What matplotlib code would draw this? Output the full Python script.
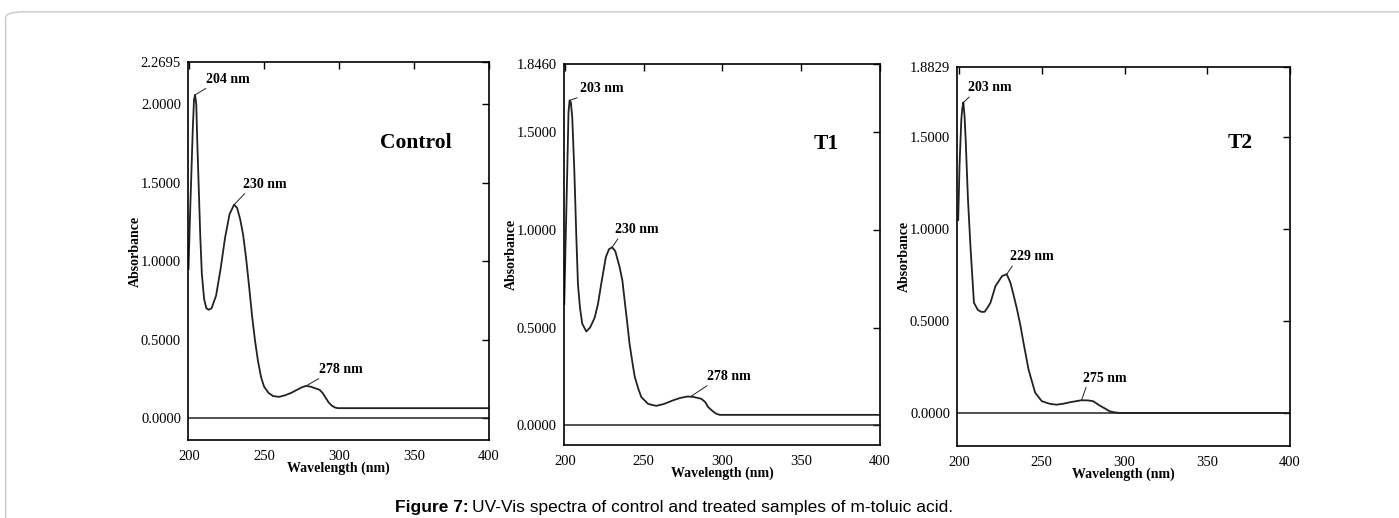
import matplotlib.pyplot as plt
from matplotlib.patches import FancyBboxPatch

# Control spectrum
control_nm = [199.6, 200.5, 201.5, 202.5, 203.3, 204, 204.8, 205.5, 206.5, 207.5, 208.5, 210,
              211.5, 213, 215, 218, 221, 224, 227, 230, 232, 234, 236, 238, 240, 242, 244, 246,
              248, 250, 253, 256, 260, 264, 268, 272, 275, 278, 281, 284, 287, 289, 291, 293,
              295, 297, 299, 400]
control_abs = [0.95, 1.25, 1.55, 1.85, 2.03, 2.06, 2.0, 1.75, 1.45, 1.15, 0.92, 0.76,
               0.7, 0.69, 0.7, 0.78, 0.95, 1.15, 1.3, 1.36, 1.34, 1.27, 1.17, 1.02, 0.84, 0.65,
               0.49, 0.36, 0.26, 0.2, 0.16, 0.14, 0.135, 0.145, 0.16, 0.18, 0.195, 0.205, 0.2,
               0.19, 0.18, 0.16, 0.13, 0.1, 0.08, 0.068, 0.063, 0.063]

# T1 spectrum
t1_nm = [199.6, 200.5, 201.5, 202.3, 203, 203.8, 204.7, 206, 207.2, 208.3, 209.6, 211, 213.6,
         216, 218.9, 221, 223, 226, 228, 230, 232, 234.7, 236.5, 237.9, 239.5, 241, 242.7, 244.3,
         246.5, 248.5, 252.8, 258, 263, 268.6, 273, 278, 282, 286.6, 289, 290.9, 293.5, 296,
         298.3, 400]
t1_abs = [0.62, 0.95, 1.3, 1.6, 1.66, 1.65, 1.57, 1.3, 0.98, 0.72, 0.6, 0.52, 0.48,
          0.5, 0.55, 0.62, 0.72, 0.86, 0.9, 0.91, 0.89, 0.81, 0.74, 0.64, 0.53, 0.42, 0.33, 0.25,
          0.19, 0.145, 0.11, 0.10, 0.11, 0.128, 0.14, 0.148, 0.145, 0.136, 0.12, 0.094, 0.075, 0.06,
          0.054, 0.054]

# T2 spectrum
t2_nm = [199.5, 200.3, 201.4, 202, 202.6, 203.3, 204, 205.4, 207, 209, 211.4, 213.5, 215.4,
         217, 219, 222, 226, 228.8, 231, 233, 235, 237, 239, 242, 246, 250, 255, 259, 263, 267,
         274, 278, 281, 285, 288, 291, 294, 297, 400]
t2_abs = [1.05, 1.35, 1.6, 1.66, 1.69, 1.62, 1.49, 1.16, 0.89, 0.6, 0.56, 0.55, 0.55,
          0.57, 0.6, 0.69, 0.745, 0.755, 0.71, 0.64, 0.565, 0.48, 0.38, 0.236, 0.11, 0.064, 0.049,
          0.045, 0.05, 0.058, 0.069, 0.068, 0.064, 0.04, 0.025, 0.009, 0.003, 0.0, 0.0]

panel_names = ["Control", "T1", "T2"]
y_tops = [2.2695, 1.8460, 1.8829]
y_bottoms = [-0.14, -0.10, -0.18]
x_lefts = [199.3, 199.4, 198.8]

# peak labels: (text, peak nm, peak abs, text nm, text abs)
control_peaks = [("204 nm", 204, 2.06, 211.3, 2.16),
                 ("230 nm", 230, 1.36, 236, 1.49),
                 ("278 nm", 278, 0.205, 286.7, 0.31)]
t1_peaks = [("203 nm", 203, 1.66, 209.5, 1.72),
            ("230 nm", 230, 0.91, 232, 1.0),
            ("278 nm", 280, 0.148, 290, 0.25)]
t2_peaks = [("203 nm", 202.6, 1.69, 205.4, 1.77),
            ("229 nm", 228.8, 0.755, 230.7, 0.85),
            ("275 nm", 274, 0.069, 274.7, 0.19)]
name_pos = [(351, 1.75), (366, 1.44), (370, 1.47)]

spectra = [(control_nm, control_abs), (t1_nm, t1_abs), (t2_nm, t2_abs)]
peaks = [control_peaks, t1_peaks, t2_peaks]

axes_rects = [[0.1344, 0.1506, 0.2152, 0.7297],
              [0.4031, 0.1409, 0.2259, 0.7355],
              [0.6841, 0.1390, 0.2380, 0.7317]]

serif = "Liberation Serif"

fig = plt.figure(figsize=(13.99, 5.18), dpi=100)

# light frame around the figure
frame = FancyBboxPatch((0.004, -0.05), 1.05, 1.027, boxstyle="round,pad=0,rounding_size=0.012",
                       transform=fig.transFigure, fill=False, edgecolor="#c8c8c8", linewidth=1.0)
fig.patches.append(frame)

for i in range(3):
    ax = fig.add_axes(axes_rects[i])
    nm, ab = spectra[i]
    ax.plot(nm, ab, color="#222222", linewidth=1.3)
    ax.axhline(0, color="#222222", linewidth=1.1)
    ax.set_xlim(x_lefts[i], 400)
    ax.set_ylim(y_bottoms[i], y_tops[i])

    yt = [0, 0.5, 1.0, 1.5]
    if y_tops[i] > 2:
        yt.append(2.0)
    yt.append(y_tops[i])
    ax.set_yticks(yt)
    ax.set_yticklabels([f"{v:.4f}" for v in yt], fontfamily=serif, fontsize=10.5)
    ax.set_xticks([200, 250, 300, 350, 400])
    ax.set_xticklabels(["200", "250", "300", "350", "400"], fontfamily=serif, fontsize=10.5)
    ax.tick_params(direction="in", length=5, width=1, left=False, bottom=False,
                   top=True, right=True)
    ax.tick_params(axis="x", pad=7)
    ax.tick_params(axis="y", pad=5)
    for s in ax.spines.values():
        s.set_linewidth(1.2)

    ax.set_xlabel("Wavelength (nm)", fontfamily=serif, fontweight="bold", fontsize=10, labelpad=-1)
    ax.set_ylabel("Absorbance", fontfamily=serif, fontweight="bold", fontsize=10, labelpad=-1)

    for label, px, py, tx, ty in peaks[i]:
        ax.annotate(label, xy=(px, py), xytext=(tx, ty), fontfamily=serif, fontweight="bold",
                    fontsize=10, va="center", ha="left",
                    arrowprops=dict(arrowstyle="-", color="#222222", linewidth=0.7,
                                    shrinkA=0, shrinkB=0, relpos=(0.1, 0)))

    ax.text(name_pos[i][0], name_pos[i][1], panel_names[i], fontfamily=serif,
            fontweight="bold", fontsize=15.5, ha="center", va="center")

fig.text(0.3352, 0.021, "Figure 7:", fontfamily="Liberation Sans", fontweight="bold",
         fontsize=12.5, ha="right", va="center")
fig.text(0.3375, 0.021, "UV-Vis spectra of control and treated samples of m-toluic acid.",
         fontfamily="Liberation Sans", fontsize=12.5, ha="left", va="center")

fig.savefig("out.png", dpi=100)
